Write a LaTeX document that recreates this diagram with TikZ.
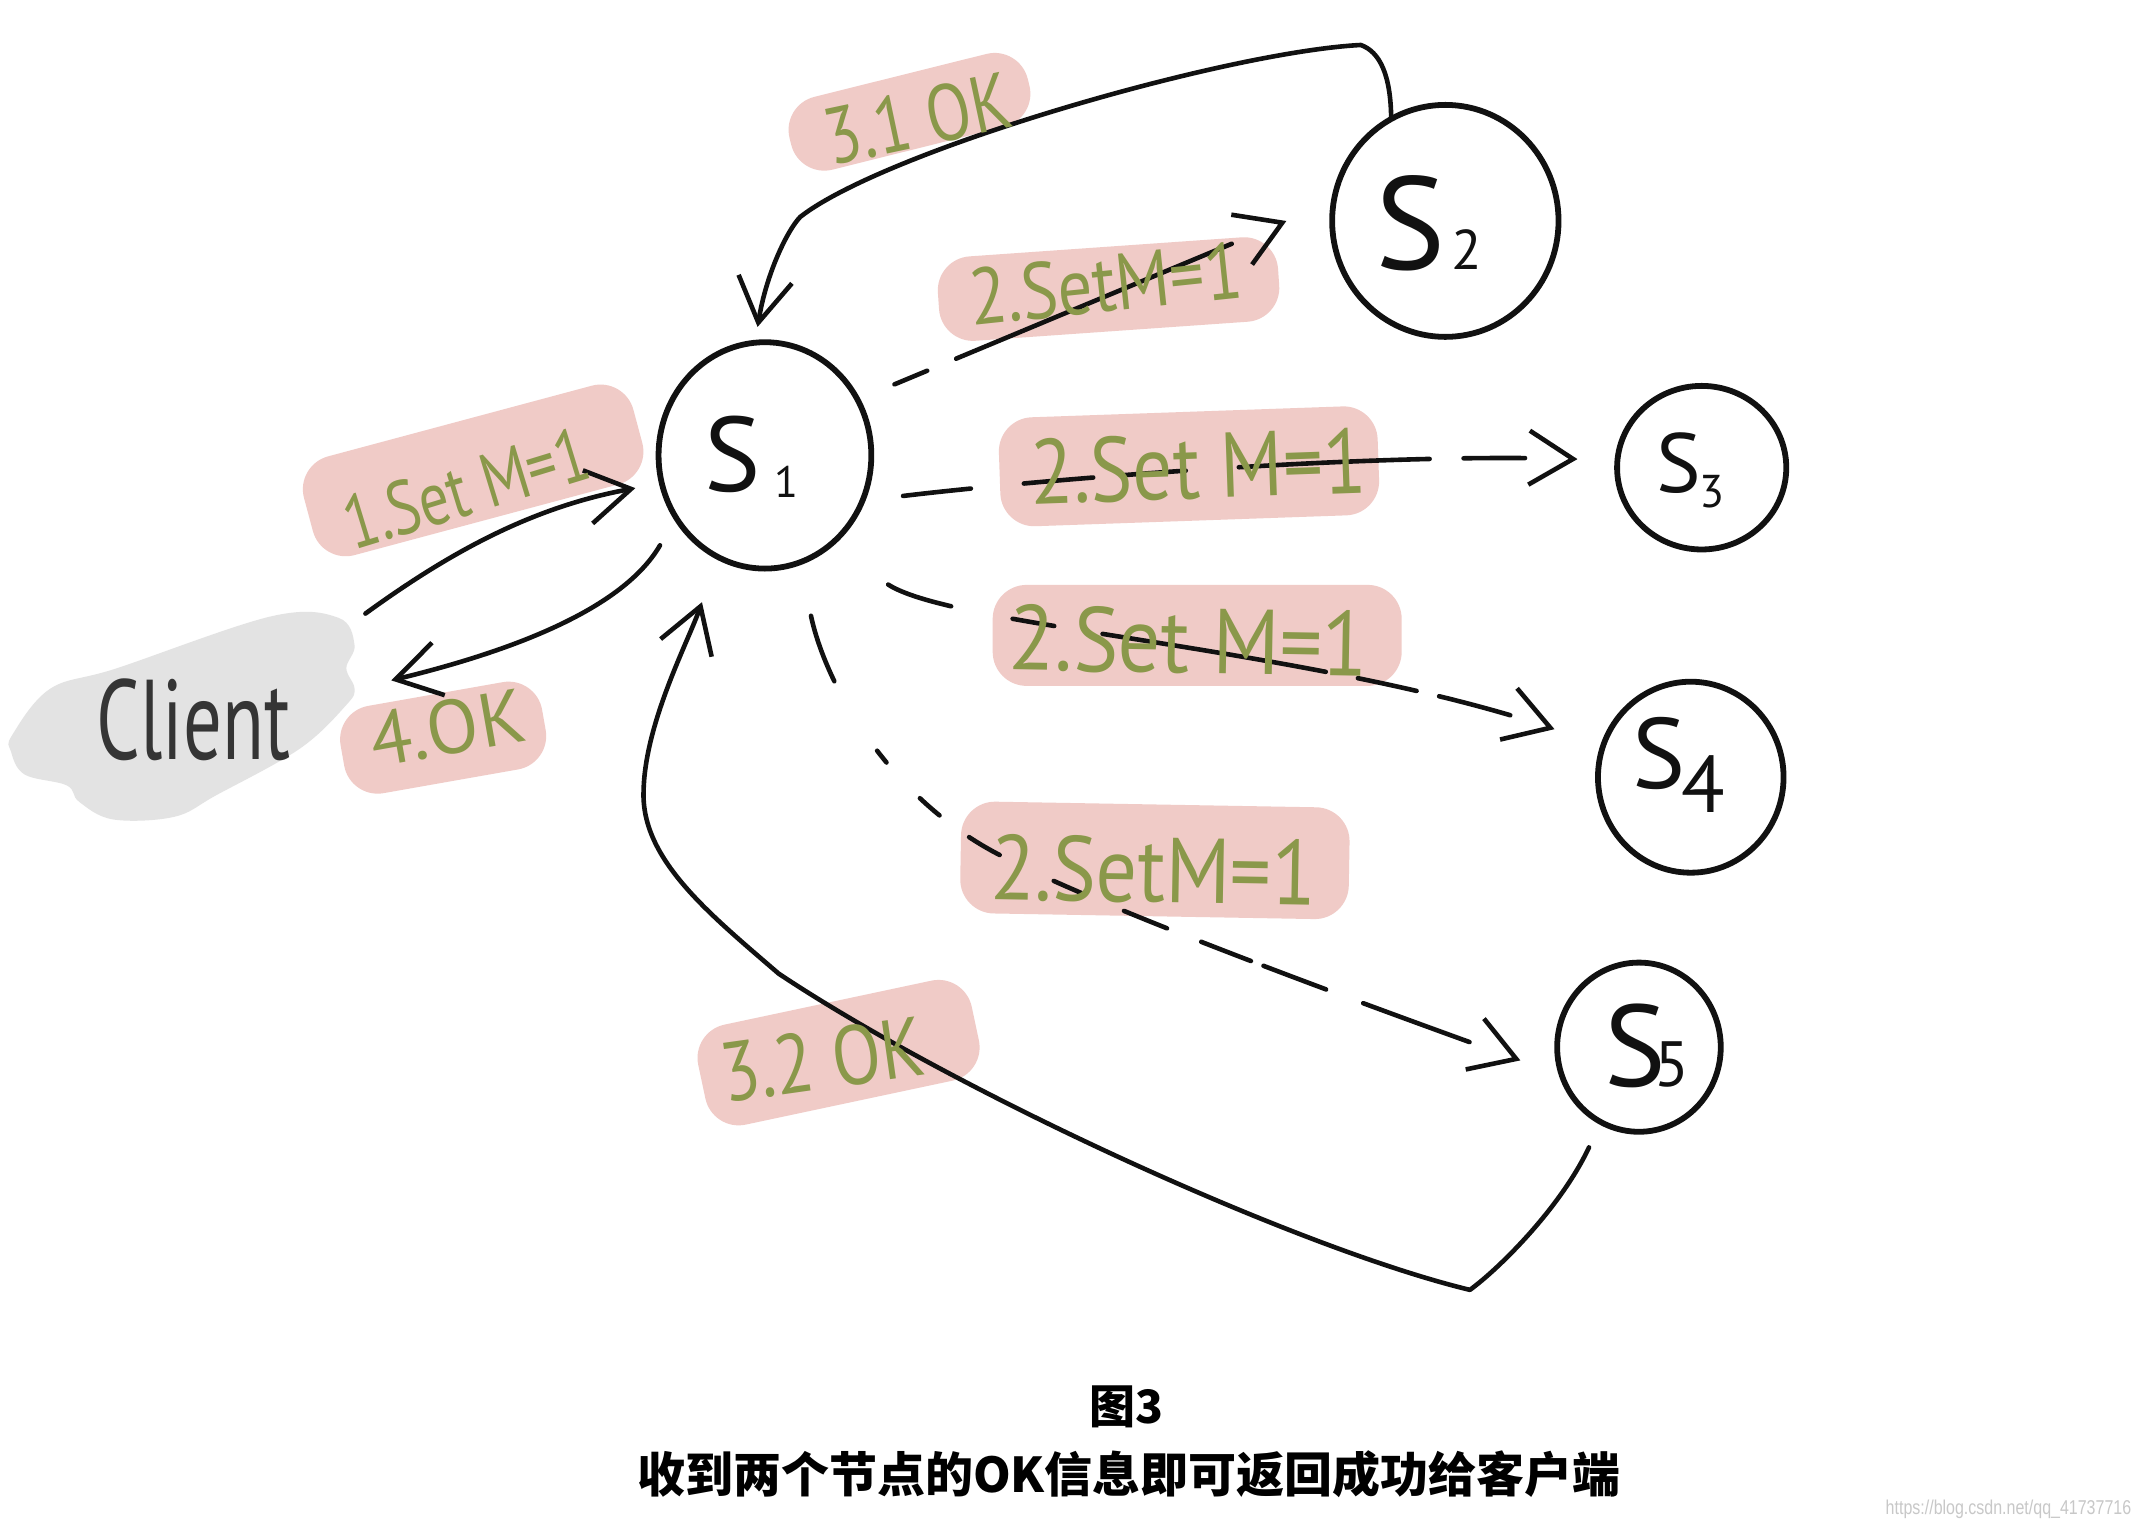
\documentclass[tikz,border=0pt]{standalone}
\usepackage{fontspec}
\usetikzlibrary{arrows.meta,shapes.geometric,calc}
\newfontfamily\handfont{PT Sans}
\newfontfamily\cjkfont{Noto Sans CJK SC}
\newfontfamily\wmfont{Liberation Sans}
\definecolor{pinkhl}{HTML}{F0CBC7}
\definecolor{lgreen}{HTML}{8A984A}
\definecolor{cloudgray}{HTML}{E3E3E3}
\definecolor{inkc}{HTML}{111111}
\definecolor{wmgray}{HTML}{C8C8C8}
\newcommand{\handsz}[1]{\handfont\fontsize{#1}{#1}\selectfont}
\tikzset{
  snode/.style={ellipse, draw=inkc, line width=2.9pt, inner sep=0pt, outer sep=0pt},
  stext/.style={text=inkc, inner sep=0pt},
  hl/.style={fill=pinkhl, rounded corners=17pt, inner sep=0pt, outer sep=0pt},
  lbl/.style={text=lgreen, inner sep=0pt},
  conn/.style={draw=inkc, line width=2.3pt, line cap=round, line join=round,
    -{Straight Barb[length=22pt,width=27pt]}},
}
\begin{document}
\begin{tikzpicture}[x=0.6818pt,y=-0.6818pt]
\useasboundingbox (0,0) rectangle (1568,1121);
\fill[white] (0,0) rectangle (1568,1121);
% client cloud
\fill[cloudgray] plot[smooth cycle, tension=0.6] coordinates {(9,539) (37,505) (86,490) (199,452) (248,453) (260,473) (254,490) (260,505) (254,517) (220,549) (159,583) (128,599) (83,601) (58,588) (49,576) (18,568) (8,551)};
% pink highlights
\node[hl, minimum width=122.7pt, minimum height=37.5pt, rotate=14] (h31) at (667,82) {};
\node[hl, minimum width=170.5pt, minimum height=42.3pt, rotate=4] (h2a) at (813,212) {};
\node[hl, minimum width=170.5pt, minimum height=51.1pt, rotate=15] (h1) at (347,345) {};
\node[hl, minimum width=189.5pt, minimum height=54.5pt, rotate=2] (h2b) at (872,342) {};
\node[hl, minimum width=204.5pt, minimum height=50.5pt] (h2c) at (878,466) {};
\node[hl, minimum width=102.3pt, minimum height=44.3pt, rotate=10] (h4) at (325,541) {};
\node[hl, minimum width=194.3pt, minimum height=55.9pt, rotate=-1] (h2d) at (847,631) {};
\node[hl, minimum width=139.8pt, minimum height=51.1pt, rotate=12] (h32) at (615,772) {};
% server nodes
\node[snode, minimum width=106.4pt, minimum height=113.2pt] (s1) at (561,334) {};
\node[snode, minimum width=113.2pt, minimum height=116pt] (s2) at (1060,162) {};
\node[snode, minimum width=84.6pt, minimum height=81.8pt] (s3) at (1248,343) {};
\node[snode, minimum width=92.8pt, minimum height=95.5pt] (s4) at (1240,570) {};
\node[snode, minimum width=81.8pt, minimum height=84.6pt] (s5) at (1202,768) {};
% client
\node[text=inkc!85, inner sep=0pt] (client) at (142,528) {\handsz{54}\scalebox{0.71}[1.05]{Client}};
\coordinate (ca) at (268,450);
\coordinate (cb) at (287,499);
% connectors
\draw[conn] (ca) .. controls (330,405) and (390,372) .. ([shift={(-17,24)}]s1.west);
\draw[conn, shorten <=16pt] (s1.215) .. controls (455,450) and (365,480) .. (cb);
\draw[conn, shorten >=8pt] (s2.118) .. controls (1020,55) and (1012,38) .. (998,33)
   .. controls (900,38) and (650,110) .. (587,159)
   .. controls (578,168) and (562,200) .. (s1.95);
\draw[conn, dash pattern=on 17.7pt off 15.7pt on 149.3pt off 140pt, shorten <=20pt, shorten >=25.7pt] (s1.31) -- (s2.170);
\draw[conn, dash pattern=on 34.1pt off 26.6pt on 34.8pt off 15.7pt on 30.7pt off 26.6pt on 95.5pt off 17pt on 30.7pt off 60pt, shorten <=20.5pt, shorten >=20pt]
   (s1.-25) .. controls (760,352) and (1000,332) .. (s3.175);
\draw[conn, dash pattern=on 33.4pt off 31.4pt on 21.1pt off 24.5pt on 113.2pt off 16.4pt on 30pt off 11.6pt on 36.8pt off 60pt, shorten <=35.5pt, shorten >=25.7pt]
   (s1.-55) .. controls (700,460) and (960,475) .. (s4.160);
\draw[conn, dash pattern=on 34.8pt off 40.9pt on 7.5pt off 24.5pt on 13pt off 18.4pt on 17.7pt off 30pt on 15pt off 23.2pt on 23.2pt off 18.4pt on 26.6pt off 6.8pt on 33.4pt off 19.8pt on 56.6pt off 60pt, shorten <=27.3pt, shorten >=22pt]
   (s1.-72) .. controls (605,500) and (650,585) .. (735,628)
   .. controls (800,662) and (960,722) .. (s5.200);
\draw[conn, shorten <=14pt, shorten >=24pt] (s5.243) .. controls (1145,885) and (1100,930) .. (1078,946)
   .. controls (950,915) and (700,800) .. (571,714)
   .. controls (520,670) and (470,630) .. (472,580)
   .. controls (473,530) and (505,470) .. (s1.245);
% labels
\node[lbl, rotate=12] (t31) at (673,87) {\handsz{40}\scalebox{0.82}[1]{3.1 OK}};
\node[lbl, rotate=6] (t2a) at (811,208) {\handsz{40}\scalebox{0.86}[1]{2.SetM=1}};
\node[lbl, rotate=17] (t1) at (342,358) {\handsz{38}\scalebox{0.78}[1]{1.Set M=1}};
\node[lbl, rotate=2] (t2b) at (879,342) {\handsz{46}\scalebox{0.86}[1]{2.Set M=1}};
\node[lbl, rotate=-1] (t2c) at (872,470) {\handsz{46}\scalebox{0.92}[1]{2.Set M=1}};
\node[lbl, rotate=10] (t4) at (328,534) {\handsz{38}4.OK};
\node[lbl, rotate=-1] (t2d) at (846,638) {\handsz{46}\scalebox{0.89}[1]{2.SetM=1}};
\node[lbl, rotate=8] (t32) at (603,777) {\handsz{42}\scalebox{0.85}[1]{3.2 OK}};
% server labels
\node[stext] (s1t) at (551,335) {\handsz{53}S\kern7pt\raisebox{-3pt}{\handsz{22}1}};
\node[stext] (s2t) at (1048,164) {\handsz{66}S\kern3pt{\handsz{28}2}};
\node[stext] (s3t) at (1240,345) {\handsz{42}S\kern-1pt\raisebox{-7.5pt}{\handsz{23}3}};
\node[stext] (s4t) at (1231,561) {\handsz{50}S\kern-2pt\raisebox{-12pt}{\handsz{40}4}};
\node[stext] (s5t) at (1208,767) {\handsz{58}S\kern-6pt{\handsz{32}5}};
% caption
\node[inner sep=0pt] (fig) at (826,1032) {\cjkfont\bfseries\fontsize{23}{23}\selectfont 图3};
\node[inner sep=0pt] (cap) at (828,1081) {\cjkfont\bfseries\fontsize{24}{24}\selectfont 收到两个节点的OK信息即可返回成功给客户端};
\node[inner sep=0pt, text=wmgray] (wm) at (1473,1107) {\wmfont\fontsize{10}{10}\selectfont\scalebox{0.8}[1]{https://blog.csdn.net/qq\_41737716}};
\end{tikzpicture}
\end{document}
